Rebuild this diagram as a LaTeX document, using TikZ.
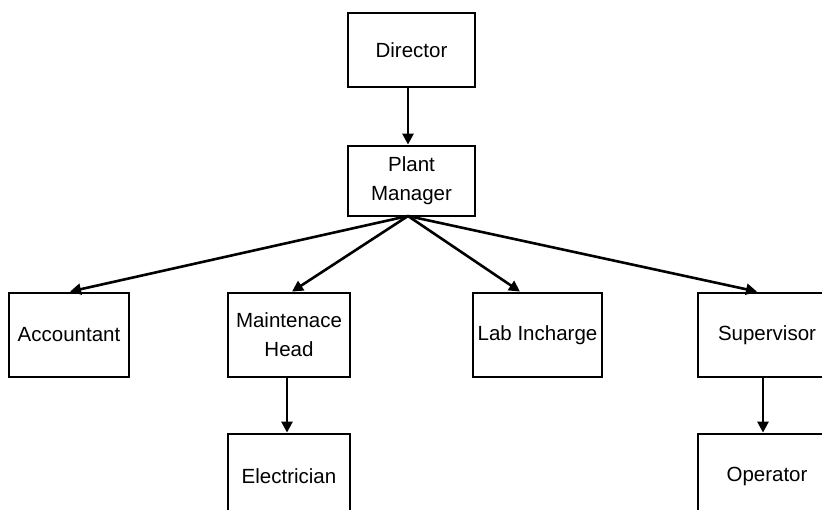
\documentclass[tikz,border=0pt]{standalone}
\usepackage{fontspec}
\setmainfont{Liberation Sans}
\usetikzlibrary{arrows.meta}
\begin{document}
\begin{tikzpicture}[x=1pt,y=-1pt,
  box/.style={draw,line width=2.8pt,rectangle,inner sep=0pt,font=\fontsize{20.5}{29}\selectfont,align=center},
  arr/.style={line width=2.6pt,-{Triangle[length=11pt,width=11pt]}}]
\useasboundingbox (0,0) rectangle (822,510);
\clip (0,0) rectangle (822,510);
\node[box,minimum width=127pt,minimum height=74pt] (dir) at (411.5,50) {Director};
\node[box,minimum width=127pt,minimum height=70pt] (pm) at (411.5,181) {Plant\\Manager};
\node[box,minimum width=120pt,minimum height=84pt] (acc) at (69,335) {Accountant};
\node[box,minimum width=122pt,minimum height=84pt] (mh) at (289,335) {Maintenace\\Head};
\node[box,minimum width=129pt,minimum height=84pt] (lab) at (537.5,335) {Lab Incharge};
\node[box,minimum width=138pt,minimum height=84pt] (sup) at (767,335) {Supervisor};
\node[box,minimum width=122pt,minimum height=84pt] (el) at (289,476) {Electrician};
\node[box,minimum width=138pt,minimum height=84pt] (op) at (767,476) {Operator};
\coordinate (pmb) at (408,216);
\draw[arr] (dir.south -| pmb) -- (pm.north -| pmb);
\draw[arr] (pmb) -- (acc.north -| 70,0);
\draw[arr] (pmb) -- (mh.north -| 292,0);
\draw[arr] (pmb) -- (lab.north -| 520,0);
\draw[arr] (pmb) -- (sup.north -| 757,0);
\draw[arr] (mh.south -| 287,0) -- (el.north -| 287,0);
\draw[arr] (sup.south -| 763,0) -- (op.north -| 763,0);
\end{tikzpicture}
\end{document}
